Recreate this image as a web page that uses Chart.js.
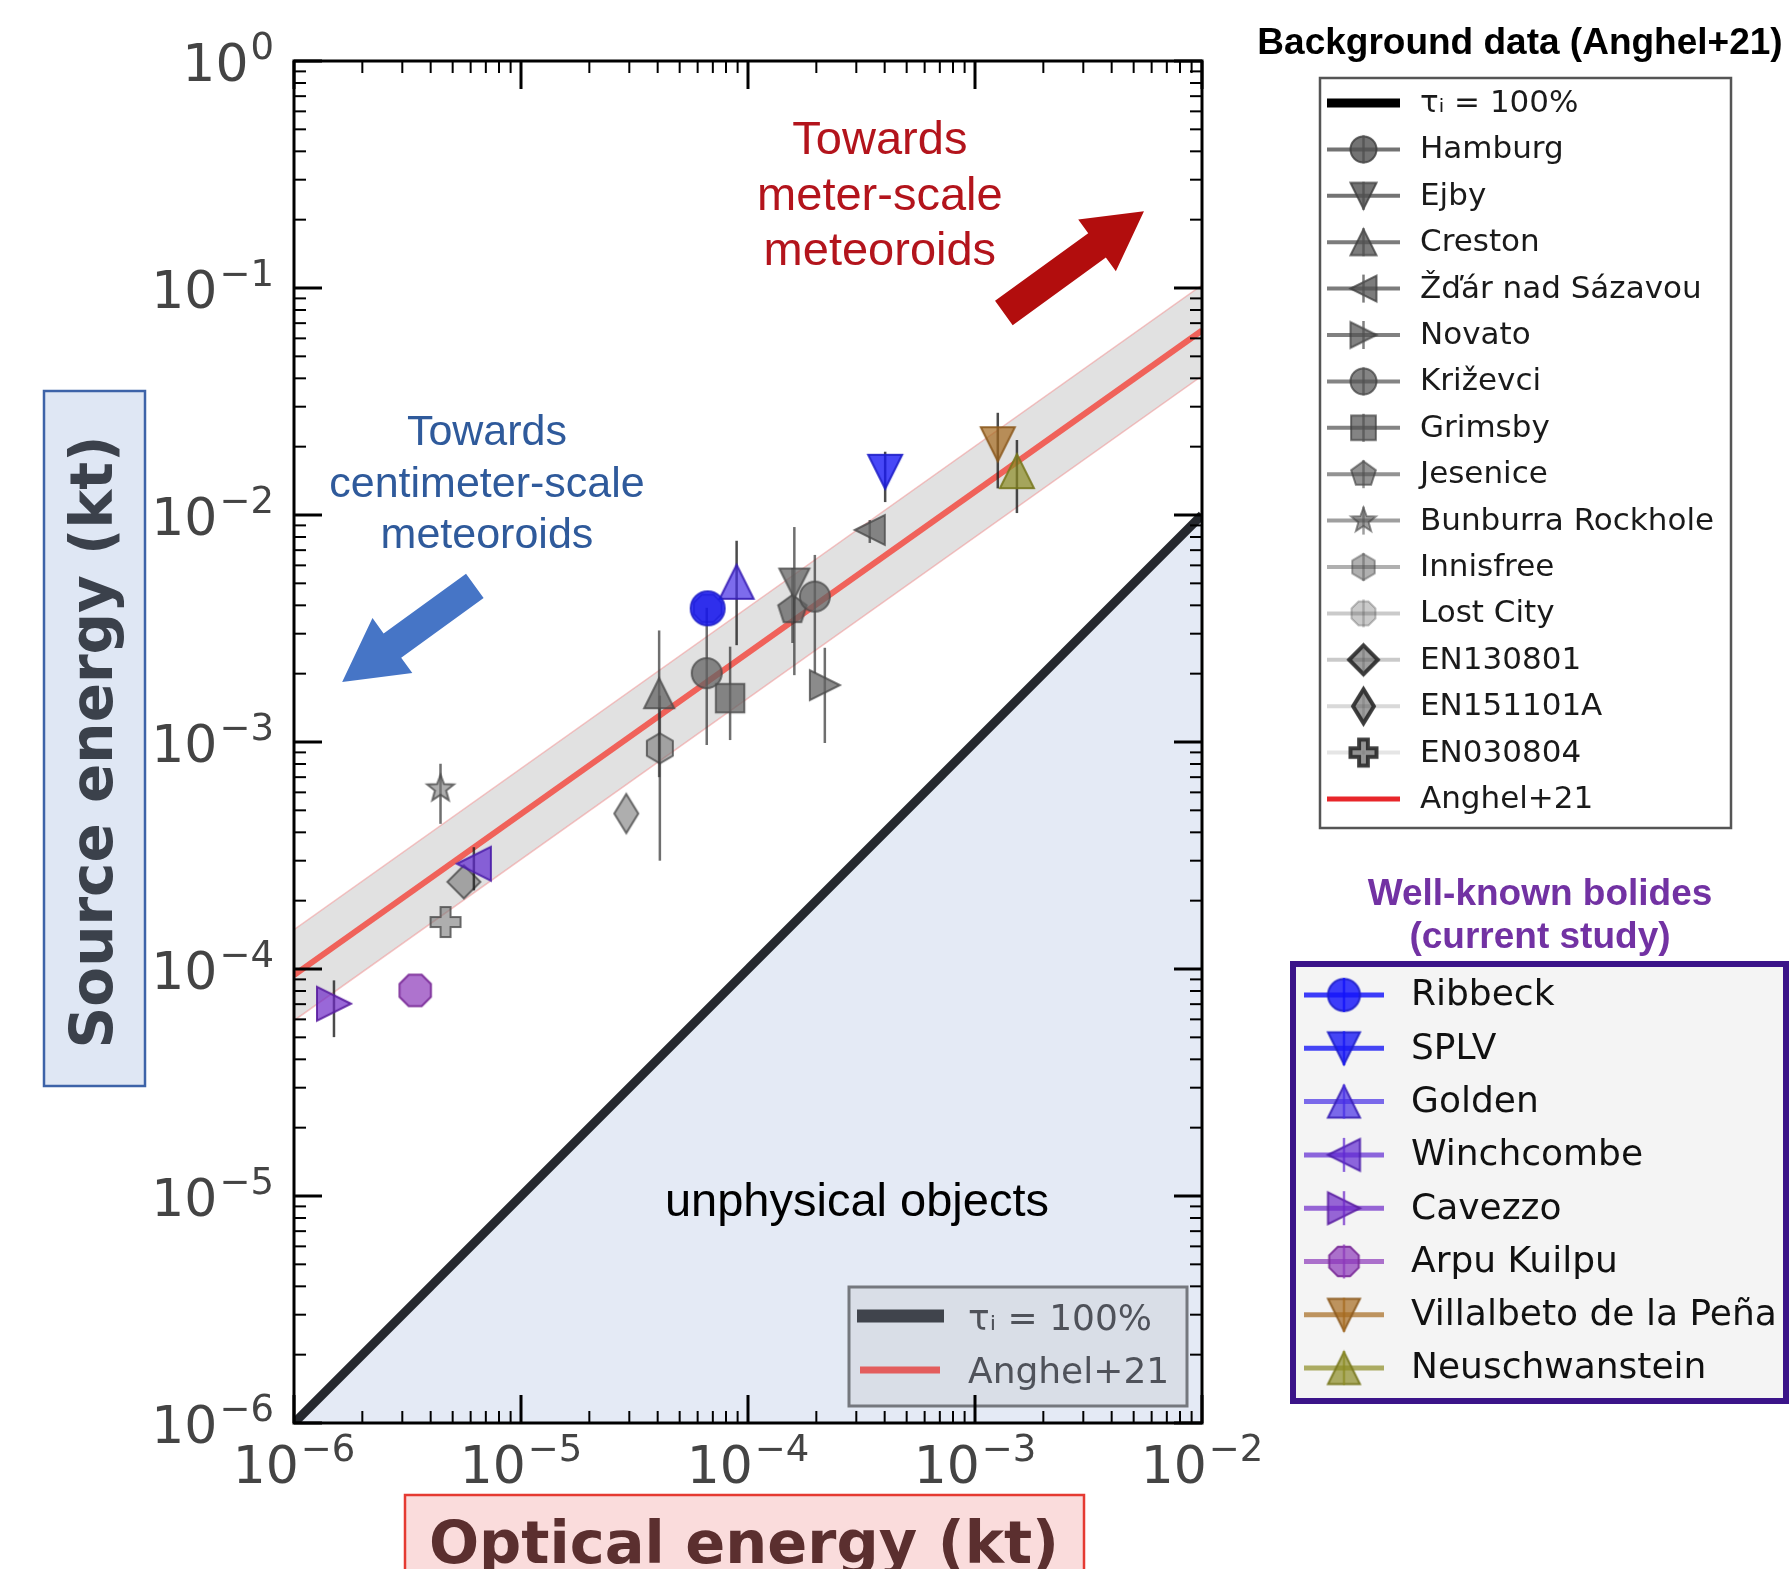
<!DOCTYPE html>
<html>
<head>
<meta charset="utf-8">
<script src="https://cdn.jsdelivr.net/npm/chart.js@4.4.1/dist/chart.umd.min.js"></script>
<style>
  html, body { margin: 0; padding: 0; background: #fff; }
</style>
</head>
<body>
<canvas id="myChart" width="1789" height="1569"></canvas>
<script>
// ---- data (kt) ----
const xDecades = [-6, -5, -4, -3, -2];
const yDecades = [-6, -5, -4, -3, -2, -1, 0];

// background events (Anghel+21)
const bgNames = ['Hamburg', 'Ejby', 'Creston', 'Žďár nad Sázavou', 'Novato', 'Križevci', 'Grimsby', 'Jesenice',
  'Bunburra Rockhole', 'Innisfree', 'Lost City', 'EN130801', 'EN151101A', 'EN030804'];
const bgOptical = [6.58e-5, 1.60e-4, 4.06e-5, 3.44e-4, 2.18e-4, 1.97e-4, 8.34e-5, 1.57e-4,
  4.42e-6, 4.09e-5, 6.64e-5, 5.60e-6, 2.91e-5, 4.65e-6];
const bgSource = [2.01e-3, 4.99e-3, 1.64e-3, 8.59e-3, 1.78e-3, 4.37e-3, 1.56e-3, 3.82e-3,
  6.22e-4, 9.38e-4, 3.88e-3, 2.42e-4, 4.84e-4, 1.61e-4];
const bgErrLow = [9.7e-4, 1.97e-3, 7.0e-4, 7.53e-3, 9.9e-4, 2.01e-3, 1.02e-3, 2.73e-3,
  4.36e-4, 3.0e-4, null, null, null, null];
const bgErrHigh = [3.9e-3, 8.85e-3, 3.1e-3, 9.5e-3, 2.6e-3, 6.67e-3, 2.63e-3, 5.84e-3,
  8.02e-4, 1.6e-3, null, null, null, null];

// well-known bolides (current study)
const wkNames = ['Ribbeck', 'SPLV', 'Golden', 'Winchcombe', 'Cavezzo', 'Arpu Kuilpu', 'Villalbeto de la Peña', 'Neuschwanstein'];
const wkOptical = [6.64e-5, 4.02e-4, 8.91e-5, 6.20e-6, 1.50e-6, 3.42e-6, 1.26e-3, 1.53e-3];
const wkSource = [3.88e-3, 1.55e-2, 5.08e-3, 2.91e-4, 7.03e-5, 8.05e-5, 2.05e-2, 1.56e-2];
const wkErrLow = [null, 1.14e-2, 2.67e-3, 2.22e-4, 5.01e-5, null, 1.31e-2, 1.02e-2];
const wkErrHigh = [null, 1.90e-2, 7.7e-3, 3.44e-4, 8.91e-5, null, 2.82e-2, 2.14e-2];

// lines
const lineOptical = [1e-6, 1e-2];
const unitySource = [1e-6, 1e-2];          // tau_i = 100%
const fitSource = [9.4e-5, 6.5e-2];        // Anghel+21
const bandUpper = [1.49e-4, 1.03e-1];
const bandLower = [5.93e-5, 4.1e-2];

// ---- styles ----
const bgShapes = ['o', 'v', '^', '<', '>', 'o', 's', 'p', '*', 'h', '8', 'D', 'd', 'P'];
const bgAlpha = [0.8, 0.8, 0.75, 0.75, 0.72, 0.7, 0.7, 0.62, 0.55, 0.45, 0.3, 0.3, 0.22, 0.15];
const wkShapes = ['o', 'v', '^', '<', '>', '8', 'v', '^'];
const wkFill = ['rgba(20,20,250,0.82)', 'rgba(25,25,245,0.8)', 'rgba(70,45,230,0.7)', 'rgba(95,40,210,0.7)',
  'rgba(110,40,200,0.7)', 'rgba(140,55,185,0.7)', 'rgba(165,105,30,0.7)', 'rgba(140,140,35,0.7)'];
const wkEdge = ['rgba(30,30,200,0.9)', 'rgba(30,30,200,0.9)', 'rgba(55,30,180,0.9)', 'rgba(75,30,170,0.9)',
  'rgba(90,30,160,0.9)', 'rgba(120,40,150,0.9)', 'rgba(140,90,30,0.9)', 'rgba(120,120,30,0.9)'];

function markerPath(g, shape, r) {
  const poly = (n, rot) => {
    for (let k = 0; k < n; k++) {
      const a = rot + k * 2 * Math.PI / n;
      if (k) g.lineTo(r * Math.cos(a), r * Math.sin(a)); else g.moveTo(r * Math.cos(a), r * Math.sin(a));
    }
    g.closePath();
  };
  g.beginPath();
  switch (shape) {
    case 'o': g.arc(0, 0, r, 0, 2 * Math.PI); break;
    case 'v': g.moveTo(0, r); g.lineTo(-r, -r); g.lineTo(r, -r); g.closePath(); break;
    case '^': g.moveTo(0, -r); g.lineTo(-r, r); g.lineTo(r, r); g.closePath(); break;
    case '<': g.moveTo(-r, 0); g.lineTo(r, -r); g.lineTo(r, r); g.closePath(); break;
    case '>': g.moveTo(r, 0); g.lineTo(-r, -r); g.lineTo(-r, r); g.closePath(); break;
    case 's': g.rect(-r * 0.95, -r * 0.95, 1.9 * r, 1.9 * r); break;
    case 'p': poly(5, -Math.PI / 2); break;
    case 'h': poly(6, -Math.PI / 2); break;
    case '8': poly(8, Math.PI / 8); break;
    case 'D': g.moveTo(0, -r * 1.1); g.lineTo(r * 1.1, 0); g.lineTo(0, r * 1.1); g.lineTo(-r * 1.1, 0); g.closePath(); break;
    case 'd': g.moveTo(0, -r * 1.3); g.lineTo(r * 0.8, 0); g.lineTo(0, r * 1.3); g.lineTo(-r * 0.8, 0); g.closePath(); break;
    case '*':
      for (let k = 0; k < 10; k++) {
        const a = -Math.PI / 2 + k * Math.PI / 5, rr = k % 2 ? r * 0.42 : r;
        if (k) g.lineTo(rr * Math.cos(a), rr * Math.sin(a)); else g.moveTo(rr * Math.cos(a), rr * Math.sin(a));
      }
      g.closePath(); break;
    case 'P': {
      const t = r / 3;
      const pts = [[-t, -r], [t, -r], [t, -t], [r, -t], [r, t], [t, t], [t, r], [-t, r], [-t, t], [-r, t], [-r, -t], [-t, -t]];
      pts.forEach((p, k) => k ? g.lineTo(p[0], p[1]) : g.moveTo(p[0], p[1]));
      g.closePath(); break;
    }
  }
}

function markerImg(shape, size, fill, edge, lw) {
  const S = Math.ceil(size * 1.4 + 2 * lw + 4);
  const c = document.createElement('canvas');
  c.width = S; c.height = S;
  const g = c.getContext('2d');
  g.translate(S / 2, S / 2);
  markerPath(g, shape, size / 2);
  g.fillStyle = fill; g.fill();
  g.lineWidth = lw; g.strokeStyle = edge; g.lineJoin = 'miter'; g.stroke();
  return c;
}

const datasets = [];
// well-known bolides on top
wkNames.forEach((n, i) => {
  datasets.push({
    label: n, data: [{ x: wkOptical[i], y: wkSource[i] }],
    pointStyle: markerImg(wkShapes[i], 34, wkFill[i], wkEdge[i], 2), pointRadius: 12,
    errLow: [wkErrLow[i]], errHigh: [wkErrHigh[i]], errColor: 'rgba(30,30,30,0.8)', order: 0
  });
});
bgNames.forEach((n, i) => {
  const lightFill = i >= 8 ? 'rgba(120,120,120,0.6)' : 'rgba(100,100,100,0.75)';
  datasets.push({
    label: n, data: [{ x: bgOptical[i], y: bgSource[i] }],
    pointStyle: markerImg(bgShapes[i], bgShapes[i] === '*' ? 28 : 30, lightFill, 'rgba(75,75,75,0.8)', 2), pointRadius: 12,
    errLow: [bgErrLow[i]], errHigh: [bgErrHigh[i]], errColor: 'rgba(50,50,50,0.7)', order: 1
  });
});
datasets.push({
  type: 'line', label: 'Anghel+21', data: lineOptical.map((x, i) => ({ x, y: fitSource[i] })),
  borderColor: '#f0625a', borderWidth: 6, pointRadius: 0, fill: false, order: 2
});
datasets.push({
  type: 'line', label: 'band upper', data: lineOptical.map((x, i) => ({ x, y: bandUpper[i] })),
  borderColor: 'rgba(240,150,150,0.55)', borderWidth: 1.5, pointRadius: 0, fill: false, order: 3
});
datasets.push({
  type: 'line', label: 'band lower', data: lineOptical.map((x, i) => ({ x, y: bandLower[i] })),
  borderColor: 'rgba(240,150,150,0.55)', borderWidth: 1.5, pointRadius: 0,
  fill: '-1', backgroundColor: 'rgba(200,200,200,0.55)', order: 3
});
datasets.push({
  type: 'line', label: 'τᵢ = 100%', data: lineOptical.map((x, i) => ({ x, y: unitySource[i] })),
  borderColor: '#25282e', borderWidth: 9, pointRadius: 0,
  fill: 'start', backgroundColor: '#e4eaf5', order: 4
});

// ---- annotations (data coords) ----
const arrows = [
  { from: [1.34e-3, 7.76e-2], to: [5.55e-3, 0.218], shaft: 30, head: 64, headLen: 58, color: '#b20d0d' },
  { from: [6.26e-6, 4.87e-3], to: [1.63e-6, 1.84e-3], shaft: 30, head: 68, headLen: 62, color: '#4675c6' }
];
const notes = [
  { lines: ['Towards', 'meter-scale', 'meteoroids'], at: [3.81e-4, 0.389], lh: 55.5, font: '47px "Liberation Sans"', color: '#b3141c' },
  { lines: ['Towards', 'centimeter-scale', 'meteoroids'], at: [7.08e-6, 2.03e-2], lh: 51.5, font: '43px "Liberation Sans"', color: '#2f5a9b' },
  { lines: ['unphysical objects'], at: [3.02e-4, 8.16e-6], lh: 0, font: '47px "Liberation Sans"', color: '#000' }
];

function drawArrow(ctx, x0, y0, x1, y1, shaftW, headW, headL, color) {
  const dx = x1 - x0, dy = y1 - y0, L = Math.hypot(dx, dy);
  const ux = dx / L, uy = dy / L, nx = -uy, ny = ux;
  const bx = x1 - ux * headL, by = y1 - uy * headL;
  ctx.beginPath();
  ctx.moveTo(x0 + nx * shaftW / 2, y0 + ny * shaftW / 2);
  ctx.lineTo(bx + nx * shaftW / 2, by + ny * shaftW / 2);
  ctx.lineTo(bx + nx * headW / 2, by + ny * headW / 2);
  ctx.lineTo(x1, y1);
  ctx.lineTo(bx - nx * headW / 2, by - ny * headW / 2);
  ctx.lineTo(bx - nx * shaftW / 2, by - ny * shaftW / 2);
  ctx.lineTo(x0 - nx * shaftW / 2, y0 - ny * shaftW / 2);
  ctx.closePath();
  ctx.fillStyle = color; ctx.fill();
}

function drawPow(ctx, exp, x, y, align) {
  const base = '10', sup = (exp < 0 ? '\u2212' : '') + Math.abs(exp);
  ctx.font = '52px "DejaVu Sans"'; const wb = ctx.measureText(base).width;
  ctx.font = '37px "DejaVu Sans"'; const ws = ctx.measureText(sup).width;
  const total = wb + ws + 2;
  const x0 = align === 'right' ? x - total : x - total / 2;
  ctx.textAlign = 'left'; ctx.textBaseline = 'alphabetic';
  ctx.font = '52px "DejaVu Sans"'; ctx.fillText(base, x0, y);
  ctx.font = '37px "DejaVu Sans"'; ctx.fillText(sup, x0 + wb + 2, y - 22);
}

function legendHandle(ctx, x0, x1, cy, color, lw, img, vLen) {
  ctx.strokeStyle = color; ctx.lineWidth = lw;
  ctx.beginPath(); ctx.moveTo(x0, cy); ctx.lineTo(x1, cy); ctx.stroke();
  if (img) {
    const mx = (x0 + x1) / 2;
    ctx.drawImage(img, mx - img.width / 2, cy - img.height / 2);
    ctx.lineWidth = 2.5;
    ctx.beginPath(); ctx.moveTo(mx, cy - vLen); ctx.lineTo(mx, cy + vLen); ctx.stroke();
  }
}

const decorPlugin = {
  id: 'decor',
  beforeDatasetDraw(chart, args) {
    const ds = chart.data.datasets[args.index];
    if (!ds.errLow) return;
    const { x, y } = chart.scales, ctx = chart.ctx;
    ds.data.forEach((p, j) => {
      if (ds.errLow[j] == null) return;
      const px = x.getPixelForValue(p.x);
      ctx.save();
      ctx.strokeStyle = ds.errColor; ctx.lineWidth = 2.5;
      ctx.beginPath();
      ctx.moveTo(px, y.getPixelForValue(ds.errLow[j]));
      ctx.lineTo(px, y.getPixelForValue(ds.errHigh[j]));
      ctx.stroke();
      ctx.restore();
    });
  },
  afterDraw(chart) {
    const ctx = chart.ctx, a = chart.chartArea, xs = chart.scales.x, ys = chart.scales.y;
    ctx.save();

    // arrows and notes
    arrows.forEach(ar => drawArrow(ctx, xs.getPixelForValue(ar.from[0]), ys.getPixelForValue(ar.from[1]),
      xs.getPixelForValue(ar.to[0]), ys.getPixelForValue(ar.to[1]), ar.shaft, ar.head, ar.headLen, ar.color));
    notes.forEach(n => {
      ctx.font = n.font; ctx.fillStyle = n.color; ctx.textAlign = 'center'; ctx.textBaseline = 'alphabetic';
      const cx = xs.getPixelForValue(n.at[0]), y0 = ys.getPixelForValue(n.at[1]);
      n.lines.forEach((t, k) => ctx.fillText(t, cx, y0 + k * n.lh));
    });

    // inner legend
    ctx.fillStyle = 'rgba(214,219,228,0.8)';
    ctx.fillRect(849, 1287, 338, 119);
    ctx.strokeStyle = '#75787e'; ctx.lineWidth = 3;
    ctx.strokeRect(849, 1287, 338, 119);
    legendHandle(ctx, 857, 944, 1316, '#40444c', 13);
    legendHandle(ctx, 860, 940, 1370, '#e35d5d', 7);
    ctx.font = '36px "DejaVu Sans"'; ctx.fillStyle = '#4f525a'; ctx.textAlign = 'left'; ctx.textBaseline = 'alphabetic';
    ctx.fillText('τᵢ = 100%', 968, 1330);
    ctx.fillText('Anghel+21', 968, 1383);

    // frame and ticks
    ctx.strokeStyle = '#000';
    const tk = (x0, y0, x1, y1, w) => { ctx.lineWidth = w; ctx.beginPath(); ctx.moveTo(x0, y0); ctx.lineTo(x1, y1); ctx.stroke(); };
    xDecades.forEach((d, i) => {
      const v = Math.pow(10, d), px = xs.getPixelForValue(v);
      tk(px, a.bottom, px, a.bottom - 28, 3); tk(px, a.top, px, a.top + 28, 3);
      if (i < xDecades.length - 1) for (let m = 2; m <= 9; m++) {
        const q = xs.getPixelForValue(m * v);
        tk(q, a.bottom, q, a.bottom - 12, 2); tk(q, a.top, q, a.top + 12, 2);
      }
    });
    yDecades.forEach((d, i) => {
      const v = Math.pow(10, d), py = ys.getPixelForValue(v);
      tk(a.left, py, a.left + 28, py, 3); tk(a.right, py, a.right - 28, py, 3);
      if (i < yDecades.length - 1) for (let m = 2; m <= 9; m++) {
        const q = ys.getPixelForValue(m * v);
        tk(a.left, q, a.left + 12, q, 2); tk(a.right, q, a.right - 12, q, 2);
      }
    });
    ctx.lineWidth = 3;
    ctx.strokeRect(a.left, a.top, a.right - a.left, a.bottom - a.top);

    // tick labels
    ctx.fillStyle = '#444';
    xDecades.forEach(d => drawPow(ctx, d, xs.getPixelForValue(Math.pow(10, d)), a.bottom + 60, 'center'));
    yDecades.forEach(d => drawPow(ctx, d, a.left - 20, ys.getPixelForValue(Math.pow(10, d)) + 20, 'right'));

    // axis titles
    ctx.fillStyle = '#dfe7f4'; ctx.fillRect(44, 391, 101, 695);
    ctx.strokeStyle = '#3d63a8'; ctx.lineWidth = 2.5; ctx.strokeRect(44, 391, 101, 695);
    ctx.save();
    ctx.translate(97, 742); ctx.rotate(-Math.PI / 2);
    ctx.font = 'bold 58px "DejaVu Sans"'; ctx.fillStyle = '#3b414b'; ctx.textAlign = 'center'; ctx.textBaseline = 'middle';
    ctx.fillText('Source energy (kt)', 0, 0);
    ctx.restore();

    ctx.fillStyle = '#fadcdc'; ctx.fillRect(405, 1495, 679, 90);
    ctx.strokeStyle = '#e53a32'; ctx.lineWidth = 2.5; ctx.strokeRect(405, 1495, 679, 90);
    ctx.font = 'bold 59px "DejaVu Sans"'; ctx.fillStyle = '#5b2f2f'; ctx.textAlign = 'center'; ctx.textBaseline = 'alphabetic';
    ctx.fillText('Optical energy (kt)', 744, 1563);

    // legend 1: background data
    ctx.font = 'bold 37px "Liberation Sans"'; ctx.fillStyle = '#000'; ctx.textAlign = 'center';
    ctx.fillText('Background data (Anghel+21)', 1520, 54);
    ctx.fillStyle = '#fff'; ctx.fillRect(1320, 78, 411, 750);
    ctx.strokeStyle = '#555'; ctx.lineWidth = 2.5; ctx.strokeRect(1320, 78, 411, 750);
    const l1 = ['τᵢ = 100%'].concat(bgNames, ['Anghel+21']);
    l1.forEach((t, i) => {
      const cy = 103 + i * 46.4;
      if (i === 0) legendHandle(ctx, 1327, 1400, cy, '#000', 9);
      else if (i === l1.length - 1) legendHandle(ctx, 1327, 1400, cy, '#e8262a', 5);
      else {
        const k = i - 1, al = bgAlpha[k];
        const dark = k >= 11;
        const img = markerImg(bgShapes[k], 26, `rgba(80,80,80,${dark ? 0.55 : al})`,
          dark ? 'rgba(40,40,40,0.9)' : `rgba(60,60,60,${al})`, dark ? 4 : 2);
        legendHandle(ctx, 1327, 1400, cy, `rgba(80,80,80,${al})`, 4, img, 14);
      }
      ctx.font = '31px "DejaVu Sans"'; ctx.fillStyle = '#1a1a1a'; ctx.textAlign = 'left'; ctx.textBaseline = 'middle';
      ctx.fillText(t, 1420, cy + 1);
    });

    // legend 2: well-known bolides
    ctx.font = 'bold 37px "Liberation Sans"'; ctx.fillStyle = '#7232a3'; ctx.textAlign = 'center'; ctx.textBaseline = 'alphabetic';
    ctx.fillText('Well-known bolides', 1540, 905);
    ctx.fillText('(current study)', 1540, 948);
    ctx.fillStyle = '#f4f4f4'; ctx.fillRect(1293, 964, 493, 437);
    ctx.strokeStyle = '#3b1489'; ctx.lineWidth = 6; ctx.strokeRect(1293, 964, 493, 437);
    wkNames.forEach((t, i) => {
      const cy = 995 + i * 53.3;
      const img = markerImg(wkShapes[i], 32, wkFill[i], wkEdge[i], 2);
      legendHandle(ctx, 1304, 1384, cy, wkFill[i], 5, img, 17);
      ctx.font = '36px "DejaVu Sans"'; ctx.fillStyle = '#111'; ctx.textAlign = 'left'; ctx.textBaseline = 'middle';
      ctx.fillText(t, 1411, cy + 1);
    });

    ctx.restore();
  }
};

const ctx1 = document.getElementById('myChart');
new Chart(ctx1, {
  type: 'scatter',
  data: { datasets: datasets },
  options: {
    responsive: false,
    animation: false,
    devicePixelRatio: 1,
    layout: { padding: { left: 294, top: 61, right: 587, bottom: 146 } },
    scales: {
      x: { type: 'logarithmic', min: 1e-6, max: 1e-2, display: false },
      y: { type: 'logarithmic', min: 1e-6, max: 1, display: false }
    },
    plugins: {
      legend: { display: false },
      tooltip: { enabled: false }
    }
  },
  plugins: [decorPlugin]
});
</script>
</body>
</html>
